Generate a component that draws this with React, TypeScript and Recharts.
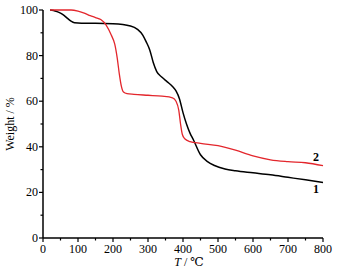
import React from "react";
import {
  LineChart,
  Line,
  XAxis,
  YAxis,
  Label,
  ReferenceDot,
} from "recharts";

// curve 1 (black)
const temps1 = [20, 30, 40, 50, 60, 70, 80, 90, 110, 150, 200, 250, 270, 285, 295, 305, 315, 325, 340, 355, 370, 380, 390, 400, 410, 420, 430, 450, 470, 490, 520, 550, 600, 650, 700, 750, 800];
const weights1 = [100, 99.8, 99.3, 98.6, 97.6, 96.3, 95.1, 94.4, 94.2, 94.2, 94, 93, 91.5, 89, 86, 82.5, 77, 73, 70.5, 68.5, 66.5, 64.5, 61, 55, 50, 46, 43, 36.5, 33.5, 31.8, 30.3, 29.5, 28.6, 27.7, 26.6, 25.5, 24.3];

// curve 2 (red)
const temps2 = [20, 50, 80, 100, 120, 135, 150, 165, 180, 195, 205, 212, 218, 224, 230, 240, 260, 300, 340, 370, 380, 388, 393, 398, 405, 420, 450, 500, 550, 600, 650, 700, 750, 800];
const weights2 = [100, 100, 100, 99.5, 98.5, 97.5, 96.7, 95.8, 93.5, 89, 85, 79, 72, 66.5, 64, 63.3, 63, 62.6, 62.2, 61.5, 60, 56, 50, 45.5, 43.5, 42.3, 41.5, 40.5, 38.5, 36, 34.3, 33.5, 33, 31.7];

const xTicks = [0, 50, 100, 150, 200, 250, 300, 350, 400, 450, 500, 550, 600, 650, 700, 750, 800];
const yTicks = [0, 10, 20, 30, 40, 50, 60, 70, 80, 90, 100];

const curveLabels = [
  { name: "1", T: 780, W: 21.5 },
  { name: "2", T: 780, W: 35.5 },
];

const data1 = temps1.map((T, i) => ({ T, W: weights1[i] }));
const data2 = temps2.map((T, i) => ({ T, W: weights2[i] }));

const FONT = "Liberation Serif, DejaVu Serif, serif";
const txt = { fontFamily: FONT, fontSize: 12, fill: "#000" };

const XTick = (props: any) => {
  const { x, y, payload } = props;
  const major = payload.value % 100 === 0;
  return (
    <g>
      <line x1={x} y1={y} x2={x} y2={y + (major ? 4 : 2.5)} stroke="#000" strokeWidth={1.2} />
      {major && (
        <text x={x} y={y + 15} textAnchor="middle" style={txt}>
          {payload.value}
        </text>
      )}
    </g>
  );
};

const YTick = (props: any) => {
  const { x, y, payload } = props;
  const major = payload.value % 20 === 0;
  return (
    <g>
      <line x1={x} y1={y} x2={x - (major ? 4 : 2.5)} y2={y} stroke="#000" strokeWidth={1.2} />
      {major && (
        <text x={x - 5} y={y + 4} textAnchor="end" style={txt}>
          {payload.value}
        </text>
      )}
    </g>
  );
};

const XTitle = (props: any) => {
  const { viewBox } = props;
  const cx = viewBox.x + viewBox.width / 2 + 6;
  return (
    <text x={cx} y={viewBox.y + 28} textAnchor="middle" style={txt}>
      <tspan fontStyle="italic">T</tspan>
      <tspan> / ℃</tspan>
    </text>
  );
};

const YTitle = (props: any) => {
  const { viewBox } = props;
  const cy = viewBox.y + viewBox.height / 2;
  return (
    <text
      x={11}
      y={cy}
      transform={`rotate(-90, 11, ${cy})`}
      textAnchor="middle"
      dominantBaseline="middle"
      style={txt}
    >
      Weight / %
    </text>
  );
};

const App = () => {
  return (
    <div style={{ position: "absolute", left: 0, top: 0, background: "#fff" }}>
      <LineChart width={339} height={269} margin={{ top: 10, right: 16, left: 0, bottom: 0 }}>
        <XAxis
          type="number"
          dataKey="T"
          domain={[0, 800]}
          ticks={xTicks}
          interval={0}
          tickSize={0}
          tickMargin={0}
          tick={<XTick />}
          height={31}
          axisLine={{ stroke: "#000", strokeWidth: 1.5 }}
          allowDuplicatedCategory={false}
        >
          <Label content={<XTitle />} />
        </XAxis>
        <YAxis
          type="number"
          dataKey="W"
          domain={[0, 100]}
          ticks={yTicks}
          interval={0}
          tickSize={0}
          tickMargin={0}
          tick={<YTick />}
          width={43}
          axisLine={{ stroke: "#000", strokeWidth: 1.5 }}
        >
          <Label content={<YTitle />} />
        </YAxis>
        <Line
          data={data1}
          dataKey="W"
          type="monotone"
          stroke="#000"
          strokeWidth={1.5}
          dot={false}
          isAnimationActive={false}
        />
        <Line
          data={data2}
          dataKey="W"
          type="monotone"
          stroke="#e3262c"
          strokeWidth={1.3}
          dot={false}
          isAnimationActive={false}
        />
        {curveLabels.map((c) => (
          <ReferenceDot
            key={c.name}
            x={c.T}
            y={c.W}
            r={0}
            stroke="none"
            label={{ value: c.name, position: "center", fontSize: 12, fontWeight: "bold", fontFamily: FONT, fill: "#000" }}
          />
        ))}
      </LineChart>
    </div>
  );
};

export default App;
